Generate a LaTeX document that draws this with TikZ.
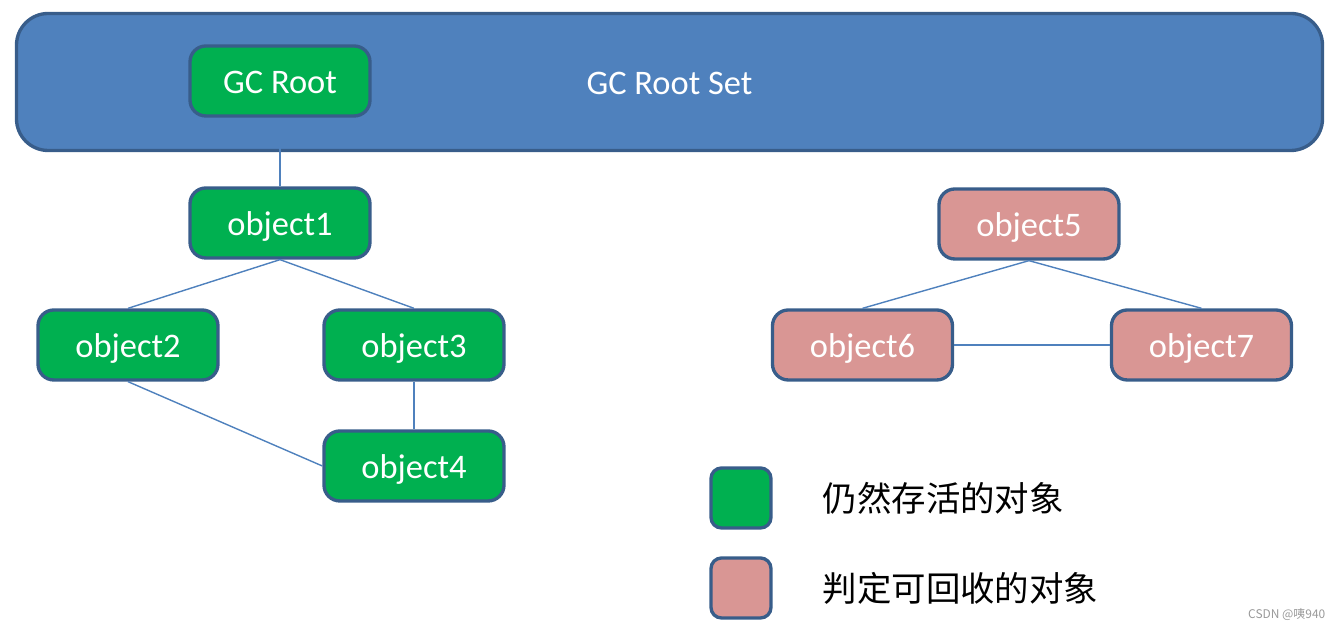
\documentclass[tikz,border=0pt]{standalone}
\usepackage{fontspec}
\setsansfont{Carlito}
\newfontfamily\cjk{Noto Sans CJK SC}
\usetikzlibrary{positioning}

\begin{document}
\begin{tikzpicture}[font=\sffamily,
		objbox/.style={draw=gcBorder, line width=0.95pt, rounded corners=4.5pt, minimum width=1.80cm, minimum height=0.70cm, text=white, text height=0.25cm, text depth=0pt, font=\sffamily\fontsize{9.8}{12}\selectfont},
		alive/.style={objbox, fill=gcGreen},
		dead/.style={objbox, fill=gcPink},
		keybox/.style={draw=gcBorder, line width=0.95pt, rounded corners=3pt, minimum width=0.60cm, minimum height=0.60cm},
		link/.style={gcBlue, line width=0.4pt}]
		
		\def\W{13.41} % Width of the picture
		
		\def\H{6.30} % Height of the picture
		
		% Define colors
		
		\definecolor{gcBlue}{RGB}{79,129,189}
		
		\definecolor{gcBorder}{RGB}{56,93,138}
		
		\definecolor{gcGreen}{RGB}{0,176,80}
		
		\definecolor{gcPink}{RGB}{217,150,148}
		
		\useasboundingbox (0,0) rectangle (\W,\H);
		
		% Draw the root set band
		
		\node[draw=gcBorder, fill=gcBlue, line width=0.95pt, rounded corners=9pt, minimum width=13.06cm, minimum height=1.37cm, text=white, text height=0.25cm, text depth=0pt, font=\sffamily\fontsize{9.8}{12}\selectfont] (rootset) at (6.695,5.48) {GC Root Set};
		
		% Reachable objects
		
		\node[alive] (gcroot) at (2.80,5.49) {GC Root};
		
		\node[alive] (obj1) at (2.80,4.07) {object1};
		
		\node[alive] (obj2) at (1.28,2.85) {object2};
		
		\node[alive] (obj3) at (4.14,2.85) {object3};
		
		\node[alive] (obj4) at (4.14,1.64) {object4};
		
		% Unreachable objects
		
		\node[dead] (obj5) at (10.29,4.06) {object5};
		
		\node[dead] (obj6) at (8.625,2.85) {object6};
		
		\node[dead] (obj7) at (12.015,2.85) {object7};
		
		% Draw the references
		
		\draw[link] (gcroot.south) -- (obj1.north);
		
		\draw[link] (obj1.south) -- (obj2.north);
		
		\draw[link] (obj1.south) -- (obj3.north);
		
		\draw[link] (obj2.south) -- (obj4.west);
		
		\draw[link] (obj3.south) -- (obj4.north);
		
		\draw[link] (obj5.south) -- (obj6.north);
		
		\draw[link] (obj5.south) -- (obj7.north);
		
		\draw[link] (obj6.east) -- (obj7.west);
		
		% Legend
		
		\node[keybox, fill=gcGreen] (keyalive) at (7.41,1.32) {};
		
		\node[keybox, fill=gcPink] (keydead) at (7.41,0.42) {};
		
		\node[anchor=west, inner sep=0pt, font=\cjk\fontsize{9.8}{12}\selectfont] (txtalive) at (8.22,1.32) {仍然存活的对象};
		
		\node[anchor=west, inner sep=0pt, font=\cjk\fontsize{9.8}{12}\selectfont] (txtdead) at (8.22,0.42) {判定可回收的对象};
		
		% Watermark
		
		\node[anchor=east, inner sep=0pt, text=black!40, font=\cjk\fontsize{3.4}{4}\selectfont] (mark) at (13.26,0.15) {CSDN @咦940};
		
	\end{tikzpicture}
\end{document}
